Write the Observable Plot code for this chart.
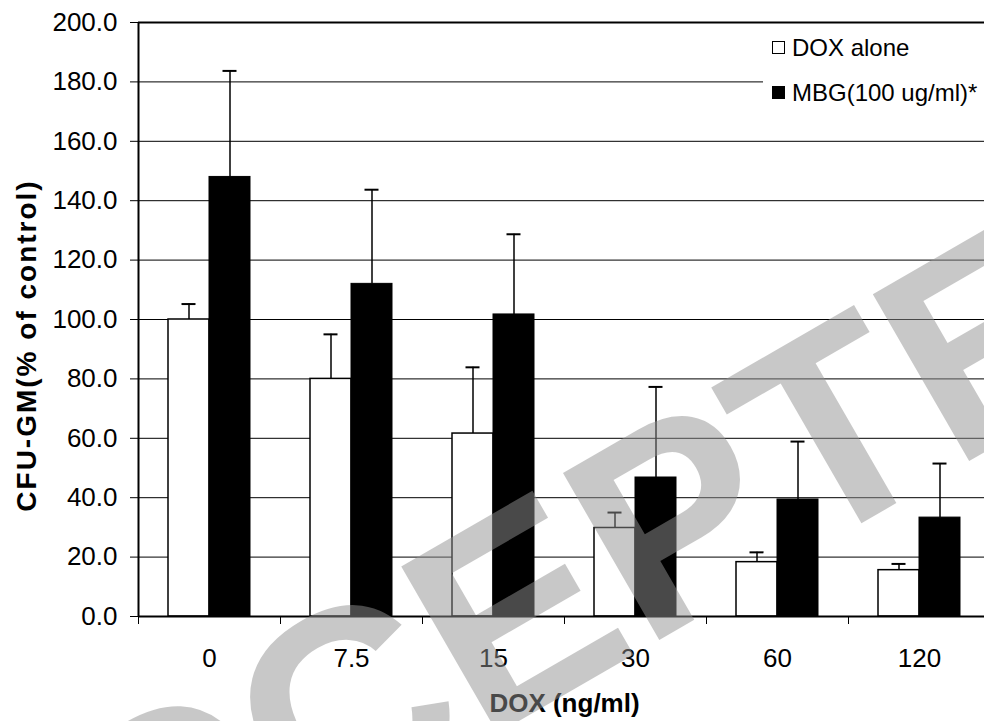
<!DOCTYPE html>
<html>
<head>
<meta charset="utf-8">
<script src="https://cdn.jsdelivr.net/npm/d3@7"></script>
<script src="https://cdn.jsdelivr.net/npm/@observablehq/plot@0.6"></script>
<style>
  html, body { margin: 0; padding: 0; background: #fff; overflow: hidden; }
  #wrap { position: relative; width: 984px; height: 721px; overflow: hidden; background: #fff; }
  #chart { width: 990px; }
  #chart svg { display: block; max-width: none !important; width: 990px; height: 721px; }
  #legend { position: absolute; left: 763px; top: 28px; width: 221px; height: 86px; background: #fff;
            font-family: "Liberation Sans", Arial, sans-serif; font-size: 24px; color: #000; }
  #legend .item { position: absolute; left: 9px; height: 30px; line-height: 30px; white-space: nowrap; }
  #legend .sw { display: inline-block; width: 13px; height: 13px; border: 1px solid #000; box-sizing: border-box;
                vertical-align: middle; margin-right: 7px; position: relative; top: -2px; }
  #wm { position: absolute; left: 0; top: 0; pointer-events: none; }
</style>
</head>
<body>
<div id="wrap">
  <div id="chart"></div>
  <div id="legend"></div>
  <svg id="wm" width="984" height="721"></svg>
</div>
<script>
// ---- data ----
const doses = ["0", "7.5", "15", "30", "60", "120"];
const seriesNames = ["DOX alone", "MBG(100 ug/ml)*"];
const doxMean = [100, 80, 61.6, 29.8, 18.3, 15.6];
const doxSD   = [5.2, 15, 22.3, 5.2, 3.3, 2.1];
const mbgMean = [148, 112, 101.7, 46.8, 39.4, 33.3];
const mbgSD   = [35.7, 31.7, 27, 30.5, 19.5, 18.2];
const yTicks  = [0, 20, 40, 60, 80, 100, 120, 140, 160, 180, 200];
const gridTicks = [20, 40, 60, 80, 100, 120, 140, 160, 180];
const xTitle = "DOX (ng/ml)";
const yTitle = "CFU-GM(% of control)";
const watermark = "ACCEPTED";

const doxRows = doses.map((d, i) => ({dose: d, series: seriesNames[0], value: doxMean[i], top: doxMean[i] + doxSD[i]}));
const mbgRows = doses.map((d, i) => ({dose: d, series: seriesNames[1], value: mbgMean[i], top: mbgMean[i] + mbgSD[i]}));

// ---- layout ----
const W = 990, H = 721;
const mL = 138, mR = 0, mT = 22, mB = 105;
const band = (W - mL - mR) / doses.length;  // 142
const half = band / 2;
const barW = 41;
const capHalf = 7;
const font = "Liberation Sans, Arial, sans-serif";

const chart = Plot.plot({
  width: W,
  height: H,
  marginLeft: mL,
  marginRight: mR,
  marginTop: mT,
  marginBottom: mB,
  style: {fontFamily: font, color: "#000", background: "#fff", overflow: "visible", maxWidth: "none"},
  x: {domain: doses, padding: 0, label: null},
  y: {domain: [0, 200], label: null},
  marks: [
    Plot.ruleY(gridTicks, {stroke: "#000", strokeWidth: 1}),
    Plot.barY(doxRows, {x: "dose", y: "value", fill: "#fff", stroke: "#000", strokeWidth: 1.5,
      insetLeft: half - barW, insetRight: half}),
    Plot.barY(mbgRows, {x: "dose", y: "value", fill: "#000", stroke: "#000", strokeWidth: 1,
      insetLeft: half, insetRight: half - barW}),
    Plot.ruleX(doxRows, {x: "dose", y1: "value", y2: "top", dx: -barW / 2, stroke: "#000", strokeWidth: 1.5}),
    Plot.ruleX(mbgRows, {x: "dose", y1: "value", y2: "top", dx: barW / 2, stroke: "#000", strokeWidth: 1.5}),
    Plot.tickY(doxRows, {x: "dose", y: "top", stroke: "#000", strokeWidth: 2,
      insetLeft: half - barW / 2 - capHalf, insetRight: half + barW / 2 - capHalf}),
    Plot.tickY(mbgRows, {x: "dose", y: "top", stroke: "#000", strokeWidth: 2,
      insetLeft: half + barW / 2 - capHalf, insetRight: half - barW / 2 - capHalf}),
    Plot.ruleY([0], {stroke: "#000", strokeWidth: 2}),
    Plot.ruleY([200], {stroke: "#000", strokeWidth: 2}),
    Plot.ruleX([doses[0]], {x: d => d, y1: 0, y2: 200, dx: -half, stroke: "#000", strokeWidth: 2}),
    Plot.axisY({ticks: yTicks, tickFormat: d3.format(".1f"), tickSize: 8, tickPadding: 13,
      fontSize: 26, label: null, stroke: "#000"}),
    Plot.axisX({tickSize: 8, tickFormat: () => "", label: null, dx: -half, stroke: "#000"}),
    Plot.axisX({tickSize: 0, tickPadding: 32, fontSize: 26, label: null}),
    Plot.text([xTitle], {frameAnchor: "bottom", dy: 87, fontSize: 26, fontWeight: "bold",
      fill: "#000", textAnchor: "middle", lineAnchor: "middle"}),
    Plot.text([yTitle], {frameAnchor: "left", dx: -111, dy: 26, rotate: -90, fontSize: 28,
      fontWeight: "bold", fill: "#000", textAnchor: "middle", lineAnchor: "middle"})
  ]
});
document.getElementById("chart").appendChild(chart);

// letter spacing of the rotated y title
d3.select(chart).selectAll("text")
  .filter(function() { return this.textContent === yTitle; })
  .style("letter-spacing", "2px");

// ---- legend ----
const legend = document.getElementById("legend");
const swatchFill = ["#fff", "#000"];
seriesNames.forEach((name, i) => {
  const item = document.createElement("div");
  item.className = "item";
  item.style.top = (5 + i * 45) + "px";
  const sw = document.createElement("span");
  sw.className = "sw";
  sw.style.background = swatchFill[i];
  item.appendChild(sw);
  item.appendChild(document.createTextNode(name));
  legend.appendChild(item);
});

// ---- watermark ----
const wm = d3.select("#wm");
wm.append("text")
  .attr("x", -44).attr("y", 1046)
  .attr("transform", "rotate(-30,-44,1046)")
  .attr("font-family", font)
  .attr("font-weight", "bold")
  .attr("font-size", 280)
  .attr("fill", "#929292")
  .attr("fill-opacity", 0.5)
  .text(watermark);
</script>
</body>
</html>
